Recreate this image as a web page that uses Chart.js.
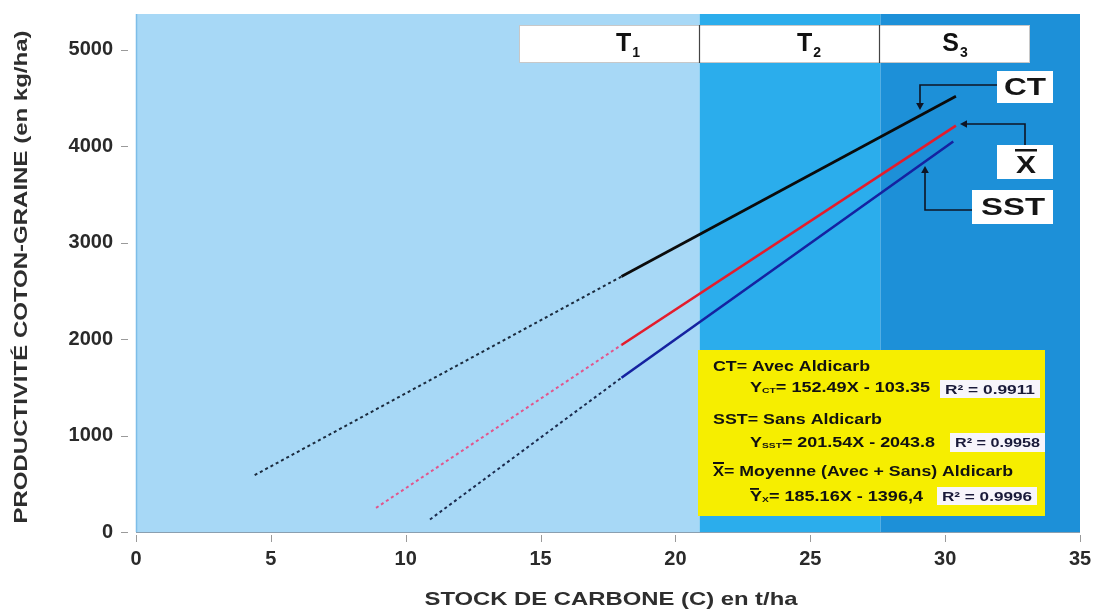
<!DOCTYPE html>
<html>
<head>
<meta charset="utf-8">
<script src="https://cdn.jsdelivr.net/npm/chart.js@4.4.1/dist/chart.umd.min.js"></script>
<style>
  html,body{margin:0;padding:0;background:#ffffff;}
  #wrap{width:1098px;height:612px;}
</style>
</head>
<body>
<div id="wrap"><canvas id="c" width="1098" height="612"></canvas></div>
<script>
// ---------- DATA ----------
const xTicks = [0, 5, 10, 15, 20, 25, 30, 35];
const yTicks = [0, 1000, 2000, 3000, 4000, 5000];

// Zones of carbon stock (t/ha)
const zoneNames = ['T', 'T', 'S'];
const zoneSubs  = ['1', '2', '3'];
const zoneStart = [0, 20.9, 27.6];
const zoneEnd   = [20.9, 27.6, 35];

// Regression lines: [start, end] points
const ctExtrapolated  = [{x: 4.4,  y: 590},  {x: 18.0, y: 2650}];
const ctObserved      = [{x: 18.0, y: 2650}, {x: 30.4, y: 4520}];
const meanExtrapolated= [{x: 8.9,  y: 250},  {x: 18.0, y: 1940}];
const meanObserved    = [{x: 18.0, y: 1940}, {x: 30.4, y: 4215}];
const sstExtrapolated = [{x: 10.9, y: 130},  {x: 18.0, y: 1600}];
const sstObserved     = [{x: 18.0, y: 1600}, {x: 30.3, y: 4050}];

const seriesNames = ['CT', 'X', 'SST'];

const legendTitles = ['CT= Avec Aldicarb', 'SST= Sans Aldicarb', '= Moyenne (Avec + Sans) Aldicarb'];
const legendSubs   = ['CT', 'SST', 'X'];
const legendEqs    = ['= 152.49X - 103.35', '= 201.54X - 2043.8', '= 185.16X - 1396,4'];
const legendR2     = ['R² = 0.9911', 'R² = 0.9958', 'R² = 0.9996'];

const xTitle = 'STOCK DE CARBONE (C) en t/ha';
const yTitle = 'PRODUCTIVITÉ COTON-GRAINE (en kg/ha)';

// ---------- HELPERS ----------
const FONT = '"Liberation Sans", Arial, sans-serif';
function fitText(ctx, text, x, y, font, color, w, align) {
  ctx.save();
  ctx.font = font; ctx.fillStyle = color; ctx.textBaseline = 'middle'; ctx.textAlign = 'left';
  const m = ctx.measureText(text).width;
  const s = w ? w / m : 1;
  let x0 = x;
  if (align === 'center') x0 = x - m * s / 2;
  ctx.translate(x0, y); ctx.scale(s, 1);
  ctx.fillText(text, 0, 0);
  ctx.restore();
  return m * s;
}
function drawRuns(ctx, runs, x, y, color, w) {
  ctx.save();
  ctx.fillStyle = color; ctx.textBaseline = 'middle'; ctx.textAlign = 'left';
  let total = 0;
  runs.forEach(r => { ctx.font = r.font; r.m = ctx.measureText(r.t).width; total += r.m; });
  const s = w ? w / total : 1;
  ctx.translate(x, y); ctx.scale(s, 1);
  let cx = 0;
  runs.forEach(r => { ctx.font = r.font; ctx.fillText(r.t, cx, r.dy || 0); cx += r.m; });
  ctx.restore();
}
function arrowHead(ctx, tipX, tipY, dir, size) {
  ctx.beginPath();
  const s = size || 6, h = s * 0.55;
  if (dir === 'down') { ctx.moveTo(tipX, tipY); ctx.lineTo(tipX - h, tipY - s); ctx.lineTo(tipX + h, tipY - s); }
  if (dir === 'up')   { ctx.moveTo(tipX, tipY); ctx.lineTo(tipX - h, tipY + s); ctx.lineTo(tipX + h, tipY + s); }
  if (dir === 'left') { ctx.moveTo(tipX, tipY); ctx.lineTo(tipX + s, tipY - h); ctx.lineTo(tipX + s, tipY + h); }
  ctx.closePath(); ctx.fill();
}

// ---------- PLUGINS ----------
const bandColors = ['#a7d8f6', '#2badec', '#1d90d8'];
const bandsPlugin = {
  id: 'bands',
  beforeDatasetsDraw(chart) {
    const {ctx, chartArea: a, scales: {x}} = chart;
    ctx.save();
    zoneStart.forEach((s, i) => {
      const x0 = x.getPixelForValue(s), x1 = x.getPixelForValue(zoneEnd[i]);
      ctx.fillStyle = bandColors[i];
      ctx.fillRect(x0, a.top, x1 - x0, a.bottom - a.top);
    });
    ctx.strokeStyle = '#7dbde8'; ctx.lineWidth = 1.5;
    ctx.beginPath(); ctx.moveTo(a.left + 0.5, a.top); ctx.lineTo(a.left + 0.5, a.bottom); ctx.stroke();
    ctx.strokeStyle = '#8a9fb0'; ctx.lineWidth = 1;
    ctx.beginPath(); ctx.moveTo(a.left, a.bottom + 0.5); ctx.lineTo(a.right, a.bottom + 0.5); ctx.stroke();
    ctx.restore();
  },
  afterDatasetsDraw(chart) {
    const {ctx, chartArea: a, scales: {x, y}} = chart;
    ctx.save();
    ctx.strokeStyle = '#9a9a9a'; ctx.lineWidth = 1;
    y.ticks.forEach(t => {
      const py = Math.round(y.getPixelForValue(t.value)) + 0.5;
      ctx.beginPath(); ctx.moveTo(a.left - 15, py); ctx.lineTo(a.left - 8, py); ctx.stroke();
    });
    x.ticks.forEach(t => {
      const px = Math.round(x.getPixelForValue(t.value)) + 0.5;
      ctx.beginPath(); ctx.moveTo(px, a.bottom + 3); ctx.lineTo(px, a.bottom + 10); ctx.stroke();
    });

    // zone header boxes
    const bx0 = 519, bx1 = 1030, by0 = 25, by1 = 63;
    const edges = [bx0, x.getPixelForValue(zoneEnd[0]), x.getPixelForValue(zoneEnd[1]), bx1];
    ctx.fillStyle = '#ffffff';
    ctx.fillRect(bx0, by0, bx1 - bx0, by1 - by0);
    ctx.strokeStyle = '#c8c8c8'; ctx.lineWidth = 1;
    ctx.strokeRect(bx0 + 0.5, by0 + 0.5, bx1 - bx0 - 1, by1 - by0 - 1);
    ctx.strokeStyle = '#444'; ctx.lineWidth = 1.2;
    [edges[1], edges[2]].forEach(e => {
      ctx.beginPath(); ctx.moveTo(Math.round(e) - 0.5, by0); ctx.lineTo(Math.round(e) - 0.5, by1); ctx.stroke();
    });
    const labelCenters = [628, 809, 955];
    zoneNames.forEach((n, i) => {
      ctx.font = 'bold 25px ' + FONT;
      const wT = ctx.measureText(n).width;
      ctx.font = 'bold 14px ' + FONT;
      const wS = ctx.measureText(zoneSubs[i]).width;
      const x0 = labelCenters[i] - (wT + wS + 1) / 2;
      ctx.fillStyle = '#111'; ctx.textBaseline = 'middle'; ctx.textAlign = 'left';
      ctx.font = 'bold 25px ' + FONT; ctx.fillText(n, x0, 44);
      ctx.font = 'bold 14px ' + FONT; ctx.fillText(zoneSubs[i], x0 + wT + 1, 53);
    });

    // series name boxes and arrows
    ctx.fillStyle = '#ffffff';
    ctx.fillRect(997, 71, 56, 32);
    ctx.fillRect(997, 145, 56, 34);
    ctx.fillRect(972, 190, 81, 34);
    fitText(ctx, seriesNames[0], 1025, 88, 'bold 24px ' + FONT, '#151515', 42, 'center');
    fitText(ctx, seriesNames[1], 1026, 167, 'bold 23px ' + FONT, '#151515', 20, 'center');
    ctx.fillStyle = '#151515'; ctx.fillRect(1015, 149, 22, 2.5);
    fitText(ctx, seriesNames[2], 1013, 208, 'bold 24px ' + FONT, '#151515', 64, 'center');

    ctx.strokeStyle = '#0e1424'; ctx.fillStyle = '#0e1424'; ctx.lineWidth = 1.6;
    ctx.beginPath(); ctx.moveTo(997, 85); ctx.lineTo(920, 85); ctx.lineTo(920, 103); ctx.stroke();
    arrowHead(ctx, 920, 110, 'down', 7);
    ctx.beginPath(); ctx.moveTo(1025, 145); ctx.lineTo(1025, 124); ctx.lineTo(966, 124); ctx.stroke();
    arrowHead(ctx, 960, 124, 'left', 7);
    ctx.beginPath(); ctx.moveTo(972, 210); ctx.lineTo(925, 210); ctx.lineTo(925, 172); ctx.stroke();
    arrowHead(ctx, 925, 166, 'up', 7);

    // legend box
    ctx.fillStyle = '#f6ee00';
    ctx.fillRect(698, 350, 347, 166);
    const titleY = [367, 420, 472], eqY = [388, 443, 497];
    const titleW = [157, 169, 302 - 13];
    const eqW = [180, 185, 173];
    const r2Box = [[940, 380, 100, 18], [950, 433, 95, 19], [937, 487, 100, 18]];
    for (let i = 0; i < 3; i++) {
      let tx = 713;
      if (i === 2) {
        const wX = fitText(ctx, 'X', 713, titleY[i], 'bold 15px ' + FONT, '#111', 11);
        ctx.fillStyle = '#111'; ctx.fillRect(713, titleY[i] - 10, 11, 2);
        tx = 713 + wX;
      }
      fitText(ctx, legendTitles[i], tx, titleY[i], 'bold 15px ' + FONT, '#111', titleW[i]);
      drawRuns(ctx, [
        {t: 'Y', font: 'bold 14px ' + FONT},
        {t: legendSubs[i], font: 'bold 8px ' + FONT, dy: 3},
        {t: legendEqs[i], font: 'bold 14px ' + FONT}
      ], 750, eqY[i], '#111', eqW[i]);
      if (i === 2) { ctx.fillStyle = '#111'; ctx.fillRect(750, eqY[i] - 9, 9, 1.8); }
      const b = r2Box[i];
      ctx.fillStyle = '#f7f5fb'; ctx.fillRect(b[0], b[1], b[2], b[3]);
      fitText(ctx, legendR2[i], b[0] + b[2] / 2, b[1] + b[3] / 2 + 1, 'bold 13px ' + FONT, '#1a1a3a', b[2] - 10, 'center');
    }

    // axis titles
    fitText(ctx, xTitle, 611, 600, 'bold 19px ' + FONT, '#2e2e2e', 373, 'center');
    ctx.save();
    ctx.translate(22, 277); ctx.rotate(-Math.PI / 2);
    fitText(ctx, yTitle, 0, 0, 'bold 19px ' + FONT, '#2e2e2e', 493, 'center');
    ctx.restore();
    ctx.restore();
  }
};

// ---------- CHART ----------
const dashed = [3, 3];
new Chart(document.getElementById('c'), {
  type: 'line',
  data: {
    datasets: [
      {label: 'CT extrapolé', data: ctExtrapolated, borderColor: '#1b2b3e', borderWidth: 2, borderDash: dashed},
      {label: 'CT', data: ctObserved, borderColor: '#0b0b0b', borderWidth: 2.6},
      {label: 'X extrapolé', data: meanExtrapolated, borderColor: '#e2558c', borderWidth: 2, borderDash: dashed},
      {label: 'X', data: meanObserved, borderColor: '#e41c2c', borderWidth: 2.6},
      {label: 'SST extrapolé', data: sstExtrapolated, borderColor: '#1b2b4e', borderWidth: 2, borderDash: dashed},
      {label: 'SST', data: sstObserved, borderColor: '#1522a0', borderWidth: 2.6}
    ]
  },
  options: {
    responsive: false,
    animation: false,
    devicePixelRatio: 1,
    elements: {point: {radius: 0, hoverRadius: 0}, line: {tension: 0}},
    layout: {padding: {left: 0, right: 18, top: 14, bottom: 0}},
    plugins: {legend: {display: false}, tooltip: {enabled: false}, title: {display: false}},
    scales: {
      x: {
        type: 'linear', min: 0, max: 35,
        afterBuildTicks: s => { s.ticks = xTicks.map(v => ({value: v})); },
        afterFit: s => { s.height = 80; s.paddingLeft = 0; s.paddingRight = 0; },
        grid: {display: false, drawTicks: false},
        border: {display: false},
        ticks: {color: '#2a2a2a', font: {family: FONT, size: 20, weight: 'bold'}, padding: 15, maxRotation: 0, autoSkip: false,
                callback: v => String(v)}
      },
      y: {
        type: 'linear', min: 0, max: 5373,
        afterBuildTicks: s => { s.ticks = yTicks.map(v => ({value: v})); },
        afterFit: s => { s.width = 136; s.paddingTop = 0; s.paddingBottom = 0; },
        grid: {display: false, drawTicks: false},
        border: {display: false},
        ticks: {color: '#2a2a2a', font: {family: FONT, size: 20, weight: 'bold'}, padding: 23, autoSkip: false,
                callback: v => String(v)}
      }
    }
  },
  plugins: [bandsPlugin]
});
</script>
</body>
</html>
